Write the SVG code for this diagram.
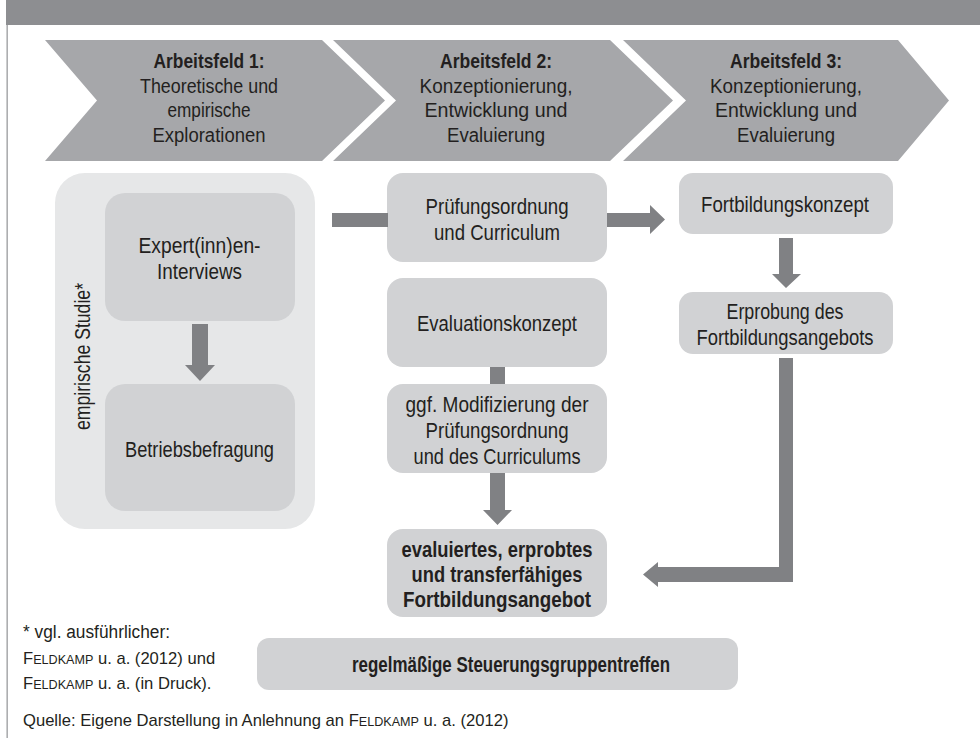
<svg xmlns="http://www.w3.org/2000/svg" width="980" height="738" viewBox="0 0 980 738">
<style>
.t{font-family:"Liberation Sans",Arial,sans-serif;fill:#231f20;text-anchor:middle}
.b{font-weight:bold}
.hd{font-size:20px}
.bx{font-size:22px}
.bb{font-size:21.5px}
.fn{font-size:18px;text-anchor:start}
.fs{font-size:16.6px;text-anchor:start}
.sc{font-size:12.6px}
.box{fill:#d1d2d4}
.cont{fill:#e6e7e8}
.chev{fill:#a6a7aa}
.arr{fill:#808184}
</style>
<rect width="980" height="738" fill="#ffffff"/>
<g id="frame">
<rect x="6" y="0" width="974" height="25" fill="#8d8e91"/>
<rect x="6.5" y="25" width="1.3" height="713" fill="#9a9b9d"/>
</g>
<g id="phase1">
<polygon class="chev" points="45,40 322,40 385,100.5 322,161 45,161 97,100.5"/>
<text class="t hd b" x="209" y="68" textLength="111" lengthAdjust="spacingAndGlyphs">Arbeitsfeld 1:</text>
<text class="t hd" x="209" y="92.5" textLength="138" lengthAdjust="spacingAndGlyphs">Theoretische und</text>
<text class="t hd" x="209" y="117" textLength="83" lengthAdjust="spacingAndGlyphs">empirische</text>
<text class="t hd" x="209" y="141.5" textLength="113" lengthAdjust="spacingAndGlyphs">Explorationen</text>
</g>
<g id="phase2">
<polygon class="chev" points="333,40 610,40 673,100.5 610,161 333,161 396,100.5"/>
<text class="t hd b" x="496" y="68" textLength="112" lengthAdjust="spacingAndGlyphs">Arbeitsfeld 2:</text>
<text class="t hd" x="496" y="92.5" textLength="153" lengthAdjust="spacingAndGlyphs">Konzeptionierung,</text>
<text class="t hd" x="496" y="117" textLength="143" lengthAdjust="spacingAndGlyphs">Entwicklung und</text>
<text class="t hd" x="496" y="141.5" textLength="98" lengthAdjust="spacingAndGlyphs">Evaluierung</text>
</g>
<g id="phase3">
<polygon class="chev" points="623,40 898,40 949,100.5 898,161 623,161 686,100.5"/>
<text class="t hd b" x="786" y="68" textLength="112" lengthAdjust="spacingAndGlyphs">Arbeitsfeld 3:</text>
<text class="t hd" x="786" y="92.5" textLength="152" lengthAdjust="spacingAndGlyphs">Konzeptionierung,</text>
<text class="t hd" x="786" y="117" textLength="142" lengthAdjust="spacingAndGlyphs">Entwicklung und</text>
<text class="t hd" x="786" y="141.5" textLength="98" lengthAdjust="spacingAndGlyphs">Evaluierung</text>
</g>
<g id="empirische-studie">
<rect class="cont" x="55" y="173" width="260" height="356" rx="30"/>
<text class="t bx" transform="translate(90,356.5) rotate(-90)" x="0" y="0" textLength="147" lengthAdjust="spacingAndGlyphs">empirische Studie*</text>
</g>
<g id="experten-interviews">
<rect class="box" x="105" y="193" width="190" height="128" rx="20"/>
<text class="t bx" x="199.5" y="253" textLength="122" lengthAdjust="spacingAndGlyphs">Expert(inn)en-</text>
<text class="t bx" x="199.5" y="279" textLength="85" lengthAdjust="spacingAndGlyphs">Interviews</text>
</g>
<g id="betriebsbefragung">
<rect class="box" x="105" y="384" width="190" height="127" rx="20"/>
<text class="t bx" x="199.5" y="457" textLength="149" lengthAdjust="spacingAndGlyphs">Betriebsbefragung</text>
</g>
<g id="pruefungsordnung">
<rect class="box" x="387" y="173" width="220" height="89" rx="16"/>
<text class="t bx" x="497" y="214" textLength="143" lengthAdjust="spacingAndGlyphs">Prüfungsordnung</text>
<text class="t bx" x="497" y="240" textLength="126" lengthAdjust="spacingAndGlyphs">und Curriculum</text>
</g>
<g id="evaluationskonzept">
<rect class="box" x="387" y="278" width="220" height="89" rx="16"/>
<text class="t bx" x="497" y="331" textLength="160" lengthAdjust="spacingAndGlyphs">Evaluationskonzept</text>
</g>
<g id="modifizierung">
<rect class="box" x="387" y="384" width="220" height="89" rx="16"/>
<text class="t bx" x="497" y="412" textLength="183" lengthAdjust="spacingAndGlyphs">ggf. Modifizierung der</text>
<text class="t bx" x="497" y="438" textLength="143" lengthAdjust="spacingAndGlyphs">Prüfungsordnung</text>
<text class="t bx" x="497" y="464" textLength="167" lengthAdjust="spacingAndGlyphs">und des Curriculums</text>
</g>
<g id="fortbildungskonzept">
<rect class="box" x="679" y="173" width="214" height="61" rx="14"/>
<text class="t bx" x="785" y="212" textLength="168" lengthAdjust="spacingAndGlyphs">Fortbildungskonzept</text>
</g>
<g id="erprobung">
<rect class="box" x="679" y="292" width="214" height="62" rx="14"/>
<text class="t bx" x="785" y="319" textLength="117" lengthAdjust="spacingAndGlyphs">Erprobung des</text>
<text class="t bx" x="785" y="345" textLength="177" lengthAdjust="spacingAndGlyphs">Fortbildungsangebots</text>
</g>
<g id="ergebnis">
<rect class="box" x="387" y="529" width="220" height="88" rx="16"/>
<text class="t bb b" x="497" y="557" textLength="191" lengthAdjust="spacingAndGlyphs">evaluiertes, erprobtes</text>
<text class="t bb b" x="497" y="582" textLength="171" lengthAdjust="spacingAndGlyphs">und transferfähiges</text>
<text class="t bb b" x="497" y="607" textLength="188" lengthAdjust="spacingAndGlyphs">Fortbildungsangebot</text>
</g>
<g id="steuerungsgruppe">
<rect class="box" x="257" y="638" width="481" height="52" rx="12"/>
<text class="t bb b" x="511" y="672" textLength="318" lengthAdjust="spacingAndGlyphs">regelmäßige Steuerungsgruppentreffen</text>
</g>
<g id="connectors">
<polygon class="arr" points="192,324 208,324 208,365 215,365 200,381 185,365 192,365"/>
<rect class="arr" x="332" y="213" width="56" height="14"/>
<polygon class="arr" points="607,213 650,213 650,205 665,219.5 650,234 650,227 607,227"/>
<polygon class="arr" points="779,238 793,238 793,274 801,274 786,288 772,274 779,274"/>
<rect class="arr" x="490" y="367" width="15" height="17"/>
<polygon class="arr" points="490,473 505,473 505,510 512,510 497.5,525 483,510 490,510"/>
<polygon class="arr" points="779,358 793,358 793,582 658,582 658,587 643,574.5 658,562 658,567 779,567"/>
</g>
<g id="footnotes">
<text class="t fn" x="23" y="638" textLength="147" lengthAdjust="spacingAndGlyphs">* vgl. ausführlicher:</text>
<text class="t fs" x="23" y="664">F<tspan class="sc">ELDKAMP</tspan> u. a. (2012) und</text>
<text class="t fs" x="23" y="689">F<tspan class="sc">ELDKAMP</tspan> u. a. (in Druck).</text>
<text class="t fs" x="23" y="726">Quelle: Eigene Darstellung in Anlehnung an F<tspan class="sc">ELDKAMP</tspan> u. a. (2012)</text>
</g>
</svg>
